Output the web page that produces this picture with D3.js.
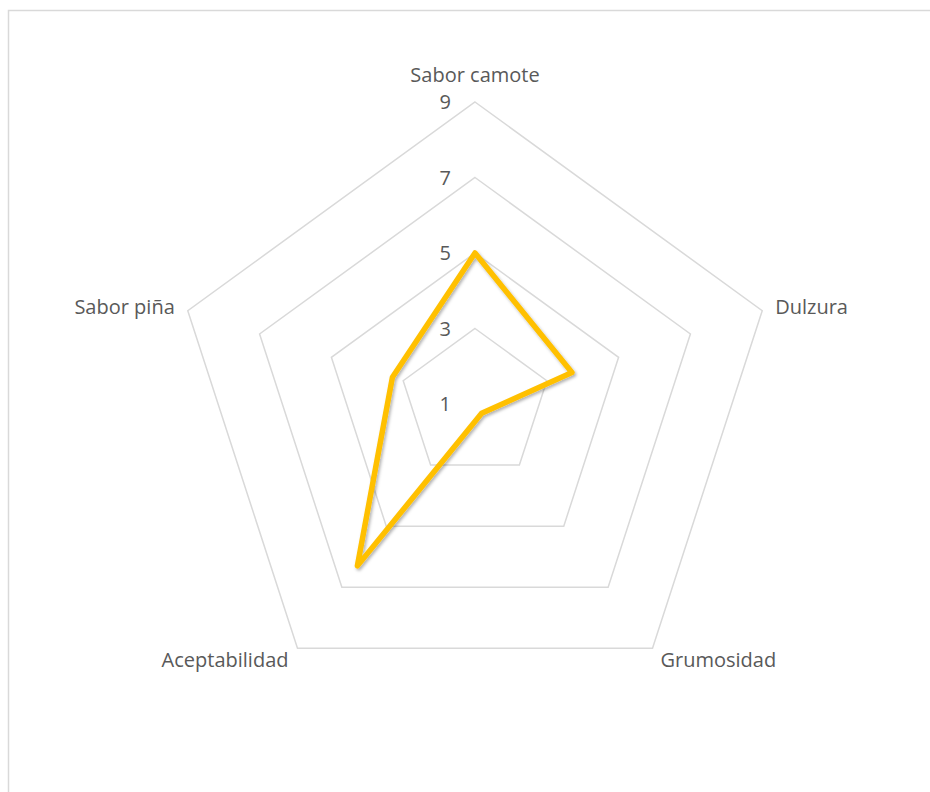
<!DOCTYPE html>
<html>
<head>
<meta charset="utf-8">
<script src="https://cdn.jsdelivr.net/npm/d3@7"></script>
<style>
  html, body { margin: 0; padding: 0; background: #fff; }
  svg { display: block; }
</style>
</head>
<body>
<div id="chart"></div>
<script>
const width = 930;
const height = 792;

const categories = ["Sabor camote", "Dulzura", "Grumosidad", "Aceptabilidad", "Sabor piña"];
const values = [5, 3.7, 1.3, 6.3, 3.3];
const ticks = [1, 3, 5, 7, 9];

const cx = 475;
const cy = 404;

const svg = d3.select("#chart")
    .append("svg")
    .attr("width", width)
    .attr("height", height);

const defs = svg.append("defs");
const shadow = defs.append("filter")
    .attr("id", "shadow")
    .attr("x", "-20%").attr("y", "-20%")
    .attr("width", "140%").attr("height", "140%");
shadow.append("feDropShadow")
    .attr("dx", 1.5).attr("dy", 2)
    .attr("stdDeviation", 1.6)
    .attr("flood-color", "#000")
    .attr("flood-opacity", 0.3);

// chart border
svg.append("rect")
    .attr("x", 8.5)
    .attr("y", 10.5)
    .attr("width", 940)
    .attr("height", 800)
    .attr("fill", "none")
    .attr("stroke", "#d9d9d9")
    .attr("stroke-width", 1.5);

const r = d3.scaleLinear().domain([1, 9]).range([0, 302]);
const angle = d3.scalePoint().domain(categories).range([0, 2 * Math.PI * 4 / 5]);

const point = (cat, v) => {
    const a = angle(cat);
    return [cx + r(v) * Math.sin(a), cy - r(v) * Math.cos(a)];
};

const line = d3.line().curve(d3.curveLinearClosed);

const g = svg.append("g");

// grid pentagons
g.selectAll("path.grid")
    .data(ticks.filter((t) => t > 1))
    .enter().append("path")
    .attr("class", "grid")
    .attr("d", (t) => line(categories.map((c) => point(c, t))))
    .attr("fill", "none")
    .attr("stroke", "#d9d9d9")
    .attr("stroke-width", 1.5);

// tick labels
g.selectAll("text.tick")
    .data(ticks)
    .enter().append("text")
    .attr("class", "tick")
    .attr("x", cx - 24)
    .attr("y", (t) => cy - r(t))
    .attr("dy", "0.36em")
    .attr("text-anchor", "end")
    .attr("font-family", "'Open Sans', sans-serif")
    .attr("font-size", 20)
    .attr("fill", "#595959")
    .text((t) => t);

// data series
g.append("path")
    .attr("d", line(categories.map((c, i) => point(c, values[i]))))
    .attr("fill", "none")
    .attr("stroke", "#ffc000")
    .attr("stroke-width", 5.5)
    .attr("stroke-linejoin", "round")
    .attr("filter", "url(#shadow)");

// category labels
const labelPos = [
    { dx: 0, dy: -20, anchor: "middle" },
    { dx: 13, dy: 3, anchor: "start" },
    { dx: 8, dy: 19, anchor: "start" },
    { dx: -9, dy: 19, anchor: "end" },
    { dx: -13, dy: 3, anchor: "end" }
];

g.selectAll("text.cat")
    .data(categories)
    .enter().append("text")
    .attr("class", "cat")
    .attr("x", (c, i) => point(c, 9)[0] + labelPos[i].dx)
    .attr("y", (c, i) => point(c, 9)[1] + labelPos[i].dy)
    .attr("text-anchor", (c, i) => labelPos[i].anchor)
    .attr("font-family", "'Open Sans', sans-serif")
    .attr("font-size", 20)
    .attr("fill", "#595959")
    .text((c) => c);
</script>
</body>
</html>
